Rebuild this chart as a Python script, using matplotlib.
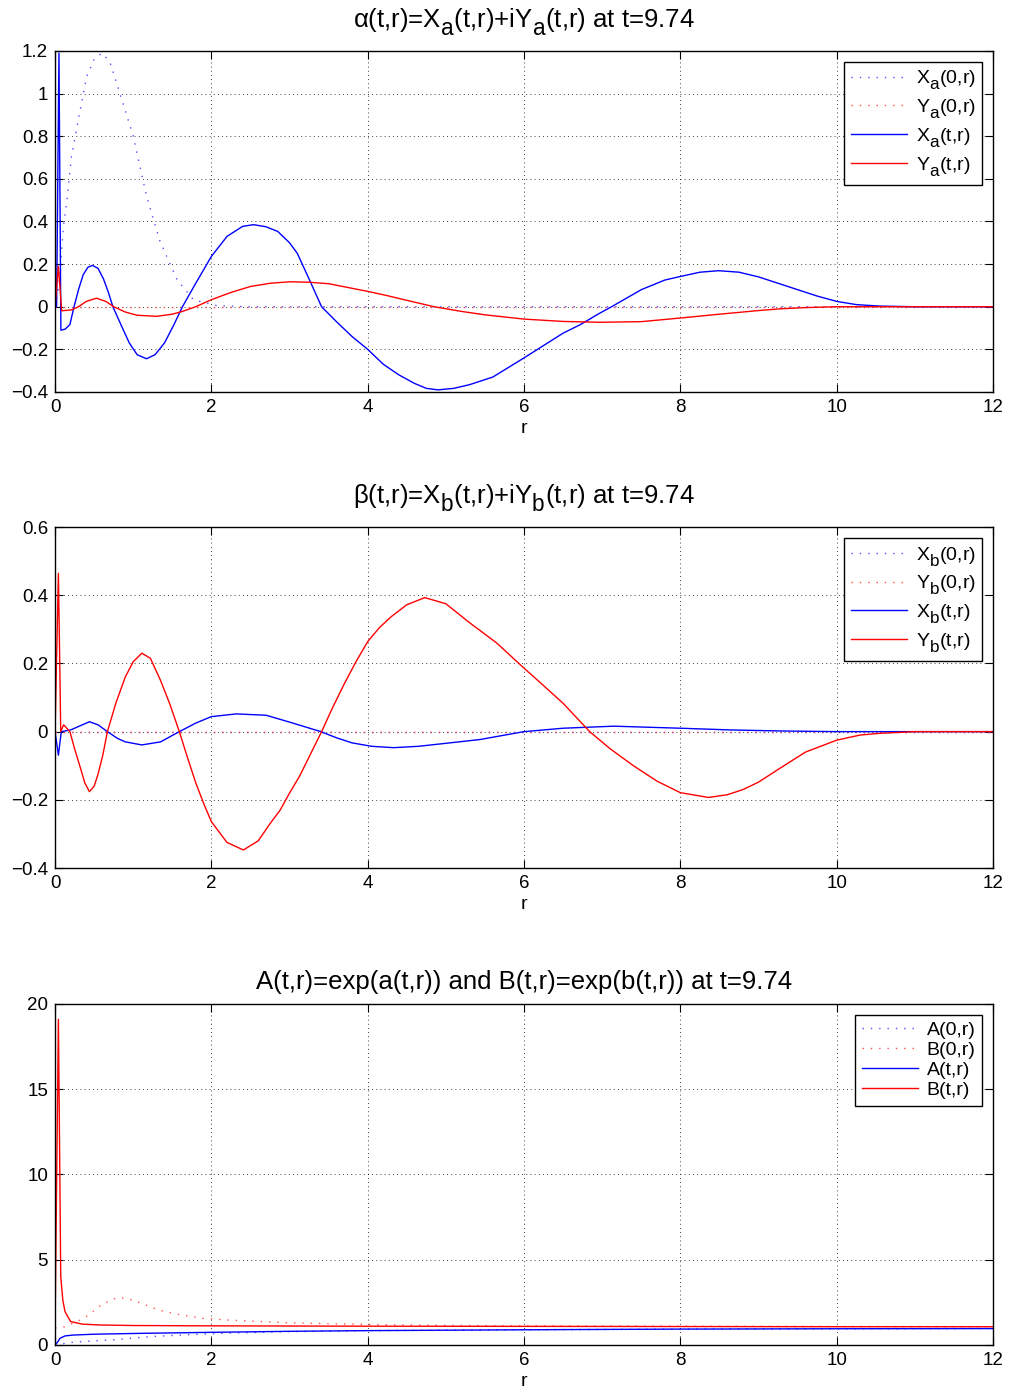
import numpy as np
import matplotlib.pyplot as plt
import matplotlib._mathtext as mathtext_internal

plt.rcParams['font.family'] = ['Liberation Sans', 'DejaVu Sans']
plt.rcParams['mathtext.fontset'] = 'custom'
plt.rcParams['mathtext.rm'] = 'Liberation Sans'
plt.rcParams['mathtext.it'] = 'Liberation Sans'
plt.rcParams['axes.unicode_minus'] = True
# MATLAB draws subscripts almost full size and set lower
mathtext_internal.SHRINK_FACTOR = 0.88
mathtext_internal.FontConstantsBase.sub1 = 0.6
mathtext_internal.FontConstantsBase.sub2 = 0.7

# ---- panel 1: alpha = Xa + iYa
r_xa0 = [0, 0.05, 0.107, 0.15, 0.21, 0.32, 0.405, 0.5, 0.6, 0.7, 0.83, 1.0, 1.17, 1.34, 1.56, 1.77, 2.07, 2.5, 12]
xa0 = [0, 0.1, 0.377, 0.49, 0.705, 0.92, 1.08, 1.16, 1.19, 1.15, 1.0, 0.8, 0.52, 0.31, 0.127, 0.033, 0.005, 0, 0]
r_ya0 = [0, 12]
ya0 = [0, 0]
r_xa = [0, 0.02, 0.05, 0.075, 0.13, 0.19, 0.243, 0.3, 0.36, 0.42, 0.48, 0.55, 0.62, 0.68, 0.74,
        0.85, 0.95, 1.05, 1.17, 1.28, 1.4, 1.52, 1.63, 1.8, 2.0, 2.2, 2.4, 2.54, 2.7, 2.85, 3.0,
        3.1, 3.25, 3.41, 3.6, 3.8, 4.0, 4.2, 4.4, 4.6, 4.75, 4.9, 5.1, 5.3, 5.6, 6.0, 6.5, 6.72,
        6.97, 7.12, 7.5, 7.8, 8.0, 8.25, 8.49, 8.75, 9.0, 9.25, 9.5, 9.75, 10.0, 10.25, 10.55, 11, 12]
xa = [0, 0, 1.19, -0.11, -0.105, -0.084, 0, 0.08, 0.15, 0.185, 0.194, 0.18, 0.13, 0.07, 0,
      -0.09, -0.17, -0.225, -0.244, -0.225, -0.17, -0.085, 0, 0.11, 0.236, 0.33, 0.377, 0.385, 0.375, 0.353, 0.3,
      0.25, 0.13, 0, -0.07, -0.14, -0.2, -0.27, -0.32, -0.36, -0.383, -0.39, -0.383, -0.366, -0.33, -0.24, -0.124, -0.084,
      -0.03, 0, 0.08, 0.125, 0.142, 0.162, 0.169, 0.162, 0.14, 0.11, 0.08, 0.05, 0.025, 0.01, 0.003, 0, 0]
r_ya = [0, 0.043, 0.085, 0.21, 0.3, 0.4, 0.53, 0.65, 0.75, 0.9, 1.05, 1.3, 1.5, 1.63, 1.8, 2.0,
        2.25, 2.5, 2.75, 3.0, 3.25, 3.5, 3.75, 4.0, 4.25, 4.5, 4.85, 5.2, 5.5, 6.0, 6.5, 6.97,
        7.5, 8.0, 8.5, 9.0, 9.27, 9.6, 10, 12]
ya = [0, 0.19, -0.019, -0.015, 0.0, 0.025, 0.04, 0.025, 0, -0.025, -0.04, -0.045, -0.035, -0.022, 0, 0.033,
      0.067, 0.095, 0.11, 0.117, 0.115, 0.108, 0.09, 0.072, 0.052, 0.03, 0, -0.022, -0.038, -0.058, -0.069, -0.073,
      -0.07, -0.053, -0.035, -0.018, -0.01, -0.004, 0, 0]

# ---- panel 2: beta = Xb + iYb
r_xb0 = [0, 12]
xb0 = [0, 0]
r_yb0 = [0, 12]
yb0 = [0, 0]
r_xb = [0, 0.043, 0.08, 0.2, 0.3, 0.44, 0.55, 0.67, 0.8, 0.9, 1.11, 1.35, 1.59, 1.8, 2.0, 2.32,
        2.7, 3.0, 3.2, 3.4, 3.6, 3.8, 4.05, 4.33, 4.65, 5.01, 5.44, 6.0, 6.5, 7.15, 8.0, 8.64,
        9.27, 10.0, 12.0]
xb = [0, -0.069, 0, 0.005, 0.015, 0.029, 0.02, 0, -0.02, -0.03, -0.039, -0.03, 0, 0.025, 0.044, 0.052,
      0.048, 0.028, 0.014, 0, -0.018, -0.033, -0.043, -0.047, -0.043, -0.034, -0.023, 0, 0.01, 0.016, 0.01, 0.005,
      0.002, 0, 0]
r_yb = [0, 0.043, 0.073, 0.11, 0.19, 0.25, 0.32, 0.38, 0.44, 0.5, 0.55, 0.61, 0.67, 0.78, 0.9, 1.0,
        1.11, 1.22, 1.35, 1.47, 1.59, 1.7, 1.8, 1.9, 2.0, 2.2, 2.41, 2.6, 2.75, 2.88, 3.0, 3.13,
        3.27, 3.41, 3.55, 3.7, 3.85, 4.0, 4.15, 4.3, 4.5, 4.73, 5.0, 5.3, 5.65, 6.0, 6.25, 6.5,
        6.84, 7.1, 7.4, 7.7, 8.0, 8.36, 8.6, 8.8, 9.0, 9.27, 9.6, 10.0, 10.3, 10.55, 11, 12]
yb = [0, 0.464, 0, 0.02, 0, -0.05, -0.103, -0.15, -0.176, -0.16, -0.125, -0.07, 0, 0.085, 0.161, 0.205,
      0.23, 0.215, 0.15, 0.08, 0, -0.08, -0.15, -0.21, -0.264, -0.325, -0.347, -0.32, -0.27, -0.23, -0.18, -0.13,
      -0.065, 0, 0.07, 0.14, 0.205, 0.264, 0.305, 0.337, 0.372, 0.393, 0.375, 0.32, 0.26, 0.186, 0.135, 0.083,
      0, -0.05, -0.1, -0.145, -0.179, -0.193, -0.185, -0.17, -0.148, -0.108, -0.06, -0.025, -0.01, -0.005, 0, 0]

# ---- panel 3: A = exp(a), B = exp(b)
r_a0 = [0, 0.19, 0.45, 0.7, 0.92, 1.22, 1.6, 2.11, 3.0, 4.0, 6.0, 8.0, 12.0]
a0 = [0, 0.14, 0.23, 0.29, 0.37, 0.49, 0.58, 0.68, 0.78, 0.84, 0.89, 0.93, 0.96]
r_b0 = [0, 0.128, 0.32, 0.43, 0.6, 0.79, 0.92, 1.11, 1.32, 1.56, 1.88, 2.22, 3.0, 4.0, 5.0, 6.0, 8.0, 12.0]
b0 = [1.0, 1.07, 1.46, 1.75, 2.38, 2.77, 2.73, 2.44, 2.05, 1.81, 1.56, 1.46, 1.3, 1.2, 1.15, 1.12, 1.1, 1.07]
r_at = [0, 0.03, 0.064, 0.128, 0.23, 0.5, 1.09, 2.0, 3.0, 4.0, 6.0, 8.0, 10.0, 12.0]
at = [0, 0.15, 0.39, 0.53, 0.58, 0.63, 0.68, 0.74, 0.8, 0.84, 0.89, 0.93, 0.95, 0.96]
r_bt = [0, 0.043, 0.073, 0.1, 0.128, 0.2, 0.35, 0.58, 1.0, 2.0, 4.0, 6.0, 8.0, 10.0, 12.0]
bt = [1.07, 19.1, 4.0, 2.6, 1.95, 1.37, 1.22, 1.17, 1.14, 1.12, 1.1, 1.09, 1.08, 1.07, 1.07]

titles = [r'$\mathrm{\alpha}$(t,r)=X$_\mathrm{a}$(t,r)+iY$_\mathrm{a}$(t,r) at t=9.74',
          r'$\mathrm{\beta}$(t,r)=X$_\mathrm{b}$(t,r)+iY$_\mathrm{b}$(t,r) at t=9.74',
          'A(t,r)=exp(a(t,r)) and B(t,r)=exp(b(t,r)) at t=9.74']
labels1 = ['X$_\\mathrm{a}$(0,r)', 'Y$_\\mathrm{a}$(0,r)', 'X$_\\mathrm{a}$(t,r)', 'Y$_\\mathrm{a}$(t,r)']
labels2 = ['X$_\\mathrm{b}$(0,r)', 'Y$_\\mathrm{b}$(0,r)', 'X$_\\mathrm{b}$(t,r)', 'Y$_\\mathrm{b}$(t,r)']
labels3 = ['A(0,r)', 'B(0,r)', 'A(t,r)', 'B(t,r)']
yticks1 = [-0.4, -0.2, 0, 0.2, 0.4, 0.6, 0.8, 1, 1.2]
yticks2 = [-0.4, -0.2, 0, 0.2, 0.4, 0.6]
yticks3 = [0, 5, 10, 15, 20]
xticks = [0, 2, 4, 6, 8, 10, 12]

dot = (0, (1, 5))
fig = plt.figure(figsize=(10.1, 13.92), dpi=100)
left, width, height = 0.0545, 0.9287, 0.245
bottoms = [0.7184, 0.3764, 0.0338]

panels = [
    (r_xa0, xa0, r_ya0, ya0, r_xa, xa, r_ya, ya, labels1, yticks1, (-0.4, 1.2)),
    (r_xb0, xb0, r_yb0, yb0, r_xb, xb, r_yb, yb, labels2, yticks2, (-0.4, 0.6)),
    (r_a0, a0, r_b0, b0, r_at, at, r_bt, bt, labels3, yticks3, (0, 20)),
]

for i, (rd1, d1, rd2, d2, rs1, s1, rs2, s2, labs, yt, ylim) in enumerate(panels):
    ax = fig.add_axes([left, bottoms[i], width, height])
    ax.plot(rd1, d1, color='#5050ff', lw=1.0, ls=dot, label=labs[0])
    ax.plot(rd2, d2, color='#ff5050', lw=1.0, ls=dot, label=labs[1])
    ax.plot(rs1, s1, color='#0000ff', lw=1.0, label=labs[2])
    ax.plot(rs2, s2, color='#ff0000', lw=1.0, label=labs[3])
    ax.set_xlim(0, 12)
    ax.set_ylim(*ylim)
    ax.set_xticks(xticks)
    ax.set_yticks(yt)
    ax.set_yticklabels([('%g' % v).replace('-', '\u2212') for v in yt])
    ax.grid(True, color='black', ls=(0, (1, 4)), lw=0.6)
    ax.tick_params(direction='in', top=True, right=True, length=6, width=0.8, labelsize=13.5, pad=5)
    for s in ax.spines.values():
        s.set_linewidth(1.0)
    ax.set_xlabel('r', fontsize=14, labelpad=3)
    ax.set_title(titles[i], fontsize=18.5, pad=17 if i < 2 else 11)
    leg = ax.legend(loc='upper right', fancybox=False, edgecolor='black', framealpha=1,
                    handlelength=2.9, handletextpad=0.45, borderaxespad=0.55, fontsize=14,
                    labelspacing=0.3 if i < 2 else 0.12, borderpad=0.35)
    leg.get_frame().set_linewidth(1.0)

fig.savefig('out.png', dpi=100)
